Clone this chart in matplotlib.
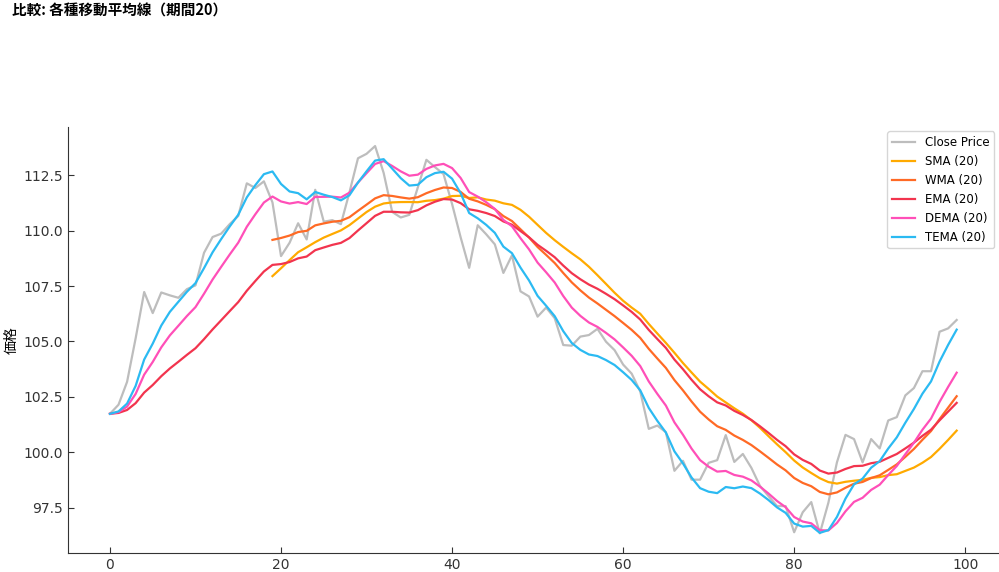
import numpy as np
import pandas as pd
import matplotlib

matplotlib.use("Agg")
from matplotlib import pyplot as plt

# close prices
close_price = [
    101.74, 102.15, 103.18, 105.14, 107.23, 106.28, 107.21, 107.08, 106.97, 107.36,
    107.53, 109.00, 109.71, 109.86, 110.29, 110.66, 112.13, 111.92, 112.22, 111.27,
    108.85, 109.45, 110.33, 109.60, 111.84, 110.40, 110.47, 110.29, 111.72, 113.26,
    113.46, 113.81, 112.60, 110.84, 110.59, 110.71, 111.95, 113.19, 112.86, 112.55,
    111.20, 109.70, 108.32, 110.24, 109.83, 109.38, 108.09, 108.88, 107.26, 107.03,
    106.12, 106.53, 106.05, 104.84, 104.81, 105.22, 105.29, 105.57, 104.99, 104.61,
    103.96, 103.55, 102.75, 101.06, 101.21, 100.91, 99.17, 99.62, 98.77, 98.77,
    99.53, 99.65, 100.78, 99.57, 99.93, 99.30, 98.49, 98.03, 97.58, 97.58,
    96.40, 97.30, 97.76, 96.35, 97.73, 99.55, 100.79, 100.60, 99.55, 100.60,
    100.18, 101.44, 101.59, 102.57, 102.90, 103.66, 103.66, 105.44, 105.59, 105.97,
]
period = 20
series_labels = ["Close Price", "SMA (20)", "WMA (20)", "EMA (20)", "DEMA (20)", "TEMA (20)"]
series_colors = ["#bdbdbd", "#ffaa00", "#ff6a25", "#f2344e", "#ff4fb8", "#2bbaf2"]

close = pd.Series(close_price)
w = np.arange(1, period + 1)
sma = close.rolling(period).mean()
wma = close.rolling(period).apply(lambda x: np.dot(x, w) / w.sum(), raw=True)
ema = close.ewm(span=period, adjust=False).mean()
ema2 = ema.ewm(span=period, adjust=False).mean()
ema3 = ema2.ewm(span=period, adjust=False).mean()
dema = 2 * ema - ema2
tema = 3 * ema - 3 * ema2 + ema3

plt.rcParams["font.family"] = ["DejaVu Sans", "Noto Sans CJK JP"]

fig = plt.figure(figsize=(9.99, 5.72), dpi=100)
ax = fig.add_axes([0.0677, 0.0337, 0.9323, 0.7448])

for s, label, color in zip([close, sma, wma, ema, dema, tema], series_labels, series_colors):
    ax.plot(s.index, s.values, color=color, lw=1.6, label=label)

ax.spines["top"].set_visible(False)
ax.spines["right"].set_visible(False)
for sp in ("left", "bottom"):
    ax.spines[sp].set_color("#333333")
ax.tick_params(colors="#333333", labelsize=10, direction="in", length=4)
ax.set_xticks([0, 20, 40, 60, 80, 100])
ax.set_ylabel("価格", family=["Noto Sans CJK JP", "DejaVu Sans"], fontsize=10)
ax.yaxis.set_label_coords(-0.053, 0.5)
ax.legend(loc="upper right", fontsize=8.5, edgecolor="#cccccc", borderaxespad=0.4)

fig.text(0.012, 0.995, "比較: 各種移動平均線（期間20）", ha="left", va="top",
         fontsize=10.5, fontweight="bold", family=["Noto Sans CJK JP", "DejaVu Sans"])

fig.savefig("out.png", dpi=100)
